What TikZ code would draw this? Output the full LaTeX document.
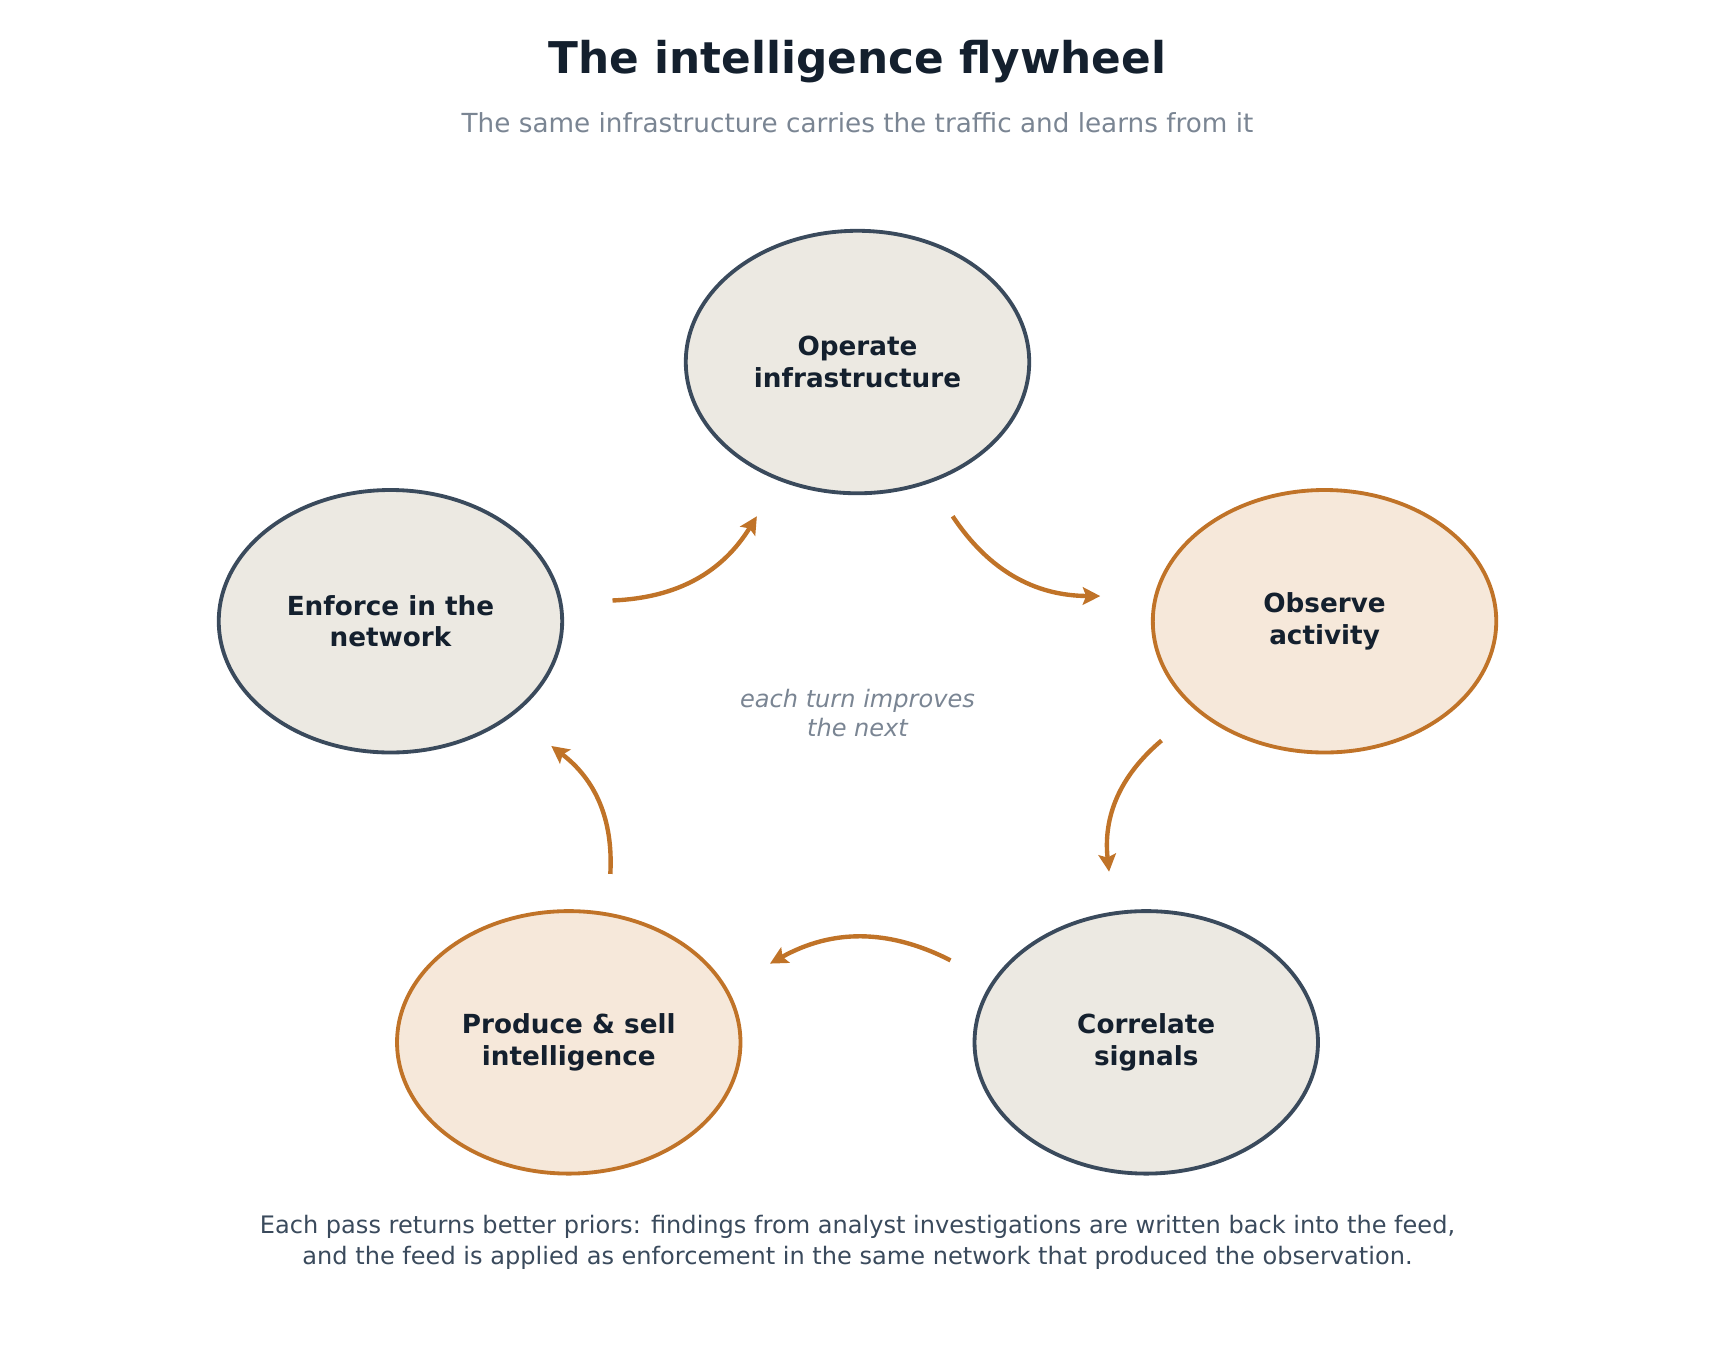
\documentclass[tikz,border=0pt]{standalone}
\usepackage{fontspec}
\setmainfont{DejaVu Sans}
\usetikzlibrary{shapes.geometric, arrows.meta}
\definecolor{ink}{HTML}{14202E}
\definecolor{slate}{HTML}{3A4A5C}
\definecolor{greytext}{HTML}{7A8593}
\definecolor{stone}{HTML}{ECE9E2}
\definecolor{amber}{HTML}{C07328}
\definecolor{peach}{HTML}{F6E8DA}
\tikzset{
  stage/.style={ellipse, draw=slate, fill=stone, line width=3.5pt, minimum width=314pt, minimum height=240pt, align=center, text=ink, font=\fontsize{24}{29}\selectfont\bfseries},
  hot/.style={stage, draw=amber, fill=peach},
  turn/.style={draw=amber, line width=4pt, -{Stealth[length=16pt, width=16pt, inset=3pt]}}
}
\begin{document}
\begin{tikzpicture}[x=1pt, y=-1pt]
                \useasboundingbox (0,0) rectangle (1568,1250);
                % Titles
                \node[font=\fontsize{40}{48}\selectfont\bfseries, text=ink] (title) at (784,56) {The intelligence flywheel};
                \node[font=\fontsize{24}{29}\selectfont, text=greytext] (sub) at (784,112) {The same infrastructure carries the traffic and learns from it};

                % Stages
                \node[stage] (operate) at (784,331) {Operate\\infrastructure};
                \node[hot] (observe) at (1211,568) {Observe\\activity};
                \node[stage] (correlate) at (1048,953) {Correlate\\signals};
                \node[hot] (produce) at (520,953) {Produce \& sell\\intelligence};
                \node[stage] (enforce) at (357,568) {Enforce in the\\network};

                \node[font=\fontsize{22}{27}\selectfont\itshape, text=greytext, align=center] (hub) at (784,652) {each turn improves\\the next};

                % Turning arrows
                \coordinate (a1) at (871,472); \coordinate (b1) at (1006,545);
                \coordinate (a2) at (1062,677); \coordinate (b2) at (1014,797);
                \coordinate (a3) at (869,878); \coordinate (b3) at (704,881);
                \coordinate (a4) at (558,799); \coordinate (b4) at (504,682);
                \coordinate (a5) at (560,549); \coordinate (b5) at (692,472);
                \draw[turn] (a1) to[bend right=28] (b1);
                \draw[turn] (a2) to[bend right=28] (b2);
                \draw[turn] (a3) to[bend right=28] (b3);
                \draw[turn] (a4) to[bend right=28] (b4);
                \draw[turn] (a5) to[bend right=28] (b5);

                % Footer
                \node[font=\fontsize{22}{28}\selectfont, text=slate, align=center] (note) at (784,1136) {Each pass returns better priors: findings from analyst investigations are written back into the feed,\\and the feed is applied as enforcement in the same network that produced the observation.};
            \end{tikzpicture}
\end{document}
